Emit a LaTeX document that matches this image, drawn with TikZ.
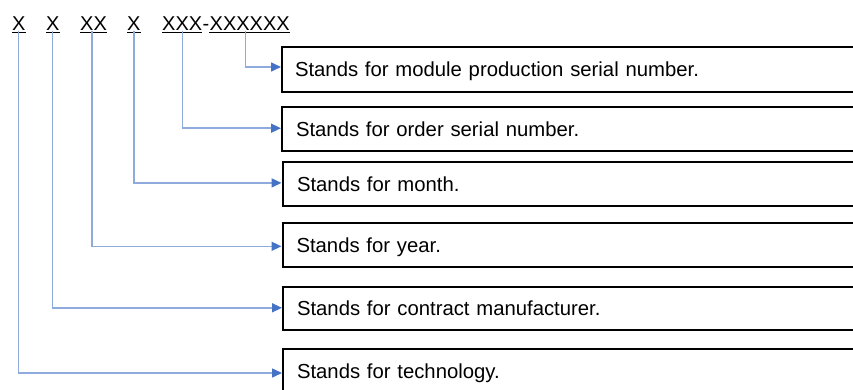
\documentclass[tikz,border=0pt]{standalone}
\usepackage{fontspec}
\setmainfont{Liberation Sans}
\usetikzlibrary{arrows.meta}
\definecolor{lineblue}{HTML}{8FAADC}
\definecolor{headblue}{HTML}{4472C4}
\tikzset{
  lbl/.style={inner sep=0pt, font=\fontsize{20}{24}\selectfont, text height=14.5pt, text depth=2pt, anchor=base west},
  box/.style={draw=black, line width=2pt, anchor=west, text width=594pt, align=left, inner xsep=13pt, inner ysep=0pt,
    text height=15pt, text depth=0pt, font=\fontsize{20.3}{24}\selectfont},
  conn/.style={draw=lineblue, line width=1.5pt, -{Triangle[length=10pt, width=9pt, color=headblue]}},
  uline/.style={draw=black, line width=1.2pt}
}
\begin{document}
\begin{tikzpicture}[x=1pt, y=-1pt]
\useasboundingbox (0,0) rectangle (853,390);
\clip (0,0) rectangle (853,390);
% top code
\node[lbl] (l1) at (12,30.7) {X};
\node[lbl] (l2) at (46,30.7) {X};
\node[lbl] (l3) at (80,30.7) {XX};
\node[lbl] (l4) at (127,30.7) {X};
\node[lbl] (l5) at (162,30.7) {XXX};
\node[lbl] (dash) at (l5.base east) {-};
\node[lbl] (l6) at (dash.base east) {XXXXXX};
\foreach \n in {l1,l2,l3,l4,l5,l6} \draw[uline] (\n.south west) -- (\n.south east);
% boxes
\node[box, minimum height=44.4pt] (b1) at (281,69.5) {Stands for module production serial number.};
\node[box, minimum height=43.7pt, inner xsep=14pt] (b2) at (281,129.2) {Stands for order serial number.};
\node[box, minimum height=43.7pt, inner xsep=14.5pt] (b3) at (281.5,183.9) {Stands for month.};
\node[box, minimum height=44pt, inner xsep=14pt] (b4) at (281.5,245.3) {Stands for year.};
\node[box, minimum height=43.3pt, inner xsep=14pt] (b5) at (282,308.3) {Stands for contract manufacturer.};
\node[box, minimum height=44pt, inner xsep=14pt] (b6) at (282,371) {Stands for technology.};
% connectors
\draw[conn] ([xshift=-4pt,yshift=2pt]l6.south) |- ([yshift=2.5pt]b1.west);
\draw[conn] ([xshift=0.5pt,yshift=2pt]l5.south) |- ([yshift=1pt]b2.west);
\draw[conn] ([yshift=2pt]l4.south) |- ([yshift=1pt]b3.west);
\draw[conn] ([xshift=-1.5pt,yshift=2pt]l3.south) |- ([yshift=-1pt]b4.west);
\draw[conn] ([xshift=-0.5pt,yshift=2pt]l2.south) |- ([yshift=0.5pt]b5.west);
\draw[conn] ([xshift=-0.5pt,yshift=2pt]l1.south) |- ([yshift=-2pt]b6.west);
\end{tikzpicture}
\end{document}
